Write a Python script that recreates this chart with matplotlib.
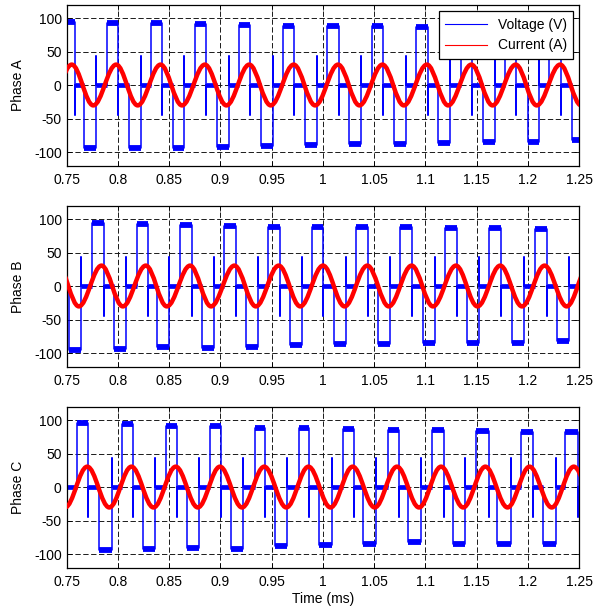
import numpy as np
import matplotlib.pyplot as plt
from matplotlib.path import Path
from matplotlib.patches import PathPatch
from matplotlib.lines import Line2D

plt.rcParams['font.family'] = ['Liberation Sans', 'DejaVu Sans']
plt.rcParams['axes.unicode_minus'] = False

# Phase A - voltage pulses (ms) and plateau levels (V)
a_pos_on = [0.7460, 0.7892, 0.8321, 0.8749, 0.9178, 0.9608, 1.0042, 1.0478, 1.0908, 1.1342, 1.1774, 1.2207]
a_pos_off = [0.7583, 0.8004, 0.8433, 0.8861, 0.9290, 0.9720, 1.0154, 1.0590, 1.1020, 1.1454, 1.1886, 1.2319]
a_pos_lvl = [95, 93, 93, 91, 90, 89, 88, 88, 87, 87, 86, 85]
a_neg_on = [0.7674, 0.8109, 0.8534, 0.8966, 0.9394, 0.9828, 1.0259, 1.0691, 1.1125, 1.1558, 1.1995, 1.2426]
a_neg_off = [0.7789, 0.8224, 0.8649, 0.9081, 0.9509, 0.9943, 1.0374, 1.0806, 1.1240, 1.1673, 1.2110, 1.2541]
a_neg_lvl = [-94, -93, -93, -92, -91, -89, -88, -87, -86, -85, -84, -82]
# Phase A - current peaks / troughs (ms, A)
a_cur_t = [0.7334, 0.7551, 0.7761, 0.7984, 0.8194, 0.8417, 0.8626, 0.8849, 0.9059, 0.9282, 0.9491, 0.9715,
           0.9924, 1.0148, 1.0356, 1.0581, 1.0789, 1.1014, 1.1221, 1.1447, 1.1654, 1.1880, 1.2085, 1.2313, 1.2518]
a_cur_v = [-30, 31, -30, 31, -30, 31, -30, 31, -30, 31, -30, 31, -30, 31, -30, 31, -30, 31, -30, 31, -30, 31, -30, 31, -30]

# Phase B
b_pos_on = [0.7749, 0.8183, 0.8607, 0.9036, 0.9468, 0.9891, 1.0323, 1.0752, 1.1190, 1.1622, 1.2068]
b_pos_off = [0.7863, 0.8297, 0.8721, 0.9150, 0.9582, 1.0005, 1.0437, 1.0866, 1.1304, 1.1736, 1.2182]
b_pos_lvl = [94, 93, 91, 90, 89, 88, 88, 88, 87, 87, 86]
b_neg_on = [0.7527, 0.7959, 0.8387, 0.8820, 0.9252, 0.9682, 1.0110, 1.0540, 1.0976, 1.1407, 1.1843, 1.2279]
b_neg_off = [0.7644, 0.8076, 0.8504, 0.8937, 0.9369, 0.9799, 1.0227, 1.0657, 1.1093, 1.1524, 1.1960, 1.2396]
b_neg_lvl = [-95, -93, -91, -92, -90, -88, -86, -86, -85, -84, -84, -82]
b_cur_t = [0.7415, 0.7620, 0.7841, 0.8049, 0.8273, 0.8478, 0.8705, 0.8909, 0.9137, 0.9346, 0.9569, 0.9779,
           1.0001, 1.0211, 1.0433, 1.0642, 1.0865, 1.1073, 1.1297, 1.1507, 1.1729, 1.1941, 1.2161, 1.2377, 1.2593]
b_cur_v = [31, -30, 31, -30, 31, -30, 31, -30, 31, -30, 31, -30, 31, -30, 31, -30, 31, -30, 31, -30, 31, -30, 31, -30, 31]

# Phase C
c_pos_on = [0.7605, 0.8037, 0.8470, 0.8902, 0.9335, 0.9767, 1.0199, 1.0632, 1.1064, 1.1497, 1.1929, 1.2360]
c_pos_off = [0.7713, 0.8145, 0.8574, 0.9002, 0.9435, 0.9869, 1.0303, 1.0740, 1.1176, 1.1615, 1.2051, 1.2490]
c_pos_lvl = [96, 95, 92, 91, 89, 88, 87, 86, 85, 84, 83, 82]
c_neg_on = [0.7390, 0.7820, 0.8249, 0.8672, 0.9101, 0.9533, 0.9965, 1.0394, 1.0833, 1.1266, 1.1700, 1.2143]
c_neg_off = [0.7508, 0.7941, 0.8363, 0.8795, 0.9218, 0.9653, 1.0086, 1.0518, 1.0954, 1.1389, 1.1829, 1.2273]
c_neg_lvl = [-93, -94, -92, -90, -92, -88, -86, -85, -82, -84, -85, -84]
c_cur_t = [0.7485, 0.7702, 0.7917, 0.8133, 0.8348, 0.8565, 0.8780, 0.8996, 0.9211, 0.9428, 0.9643, 0.9859,
           1.0074, 1.0290, 1.0505, 1.0722, 1.0937, 1.1152, 1.1368, 1.1584, 1.1800, 1.2015, 1.2231, 1.2446, 1.2662]
c_cur_v = [-30, 31, -30, 31, -30, 31, -30, 31, -30, 31, -30, 31, -30, 31, -30, 31, -30, 31, -30, 31, -30, 31, -30, 31, -30]

spike = 44  # overshoot at the end of each pulse

names = ['Phase A', 'Phase B', 'Phase C']
phases = [
    (a_pos_on, a_pos_off, a_pos_lvl, a_neg_on, a_neg_off, a_neg_lvl, a_cur_t, a_cur_v),
    (b_pos_on, b_pos_off, b_pos_lvl, b_neg_on, b_neg_off, b_neg_lvl, b_cur_t, b_cur_v),
    (c_pos_on, c_pos_off, c_pos_lvl, c_neg_on, c_neg_off, c_neg_lvl, c_cur_t, c_cur_v),
]

xticks = [0.75, 0.8, 0.85, 0.9, 0.95, 1, 1.05, 1.1, 1.15, 1.2, 1.25]
xlabels = ['0.75', '0.8', '0.85', '0.9', '0.95', '1', '1.05', '1.1', '1.15', '1.2', '1.25']
yticks = [-100, -50, 0, 50, 100]


def current_patch(tx, vy):
    # cubic bezier with flat tangents at every extremum -> smooth sine-like trace
    k = 1 - 2 / np.pi
    verts = [(tx[0], vy[0])]
    codes = [Path.MOVETO]
    for i in range(1, len(tx)):
        d = tx[i] - tx[i - 1]
        verts += [(tx[i - 1] + k * d, vy[i - 1]), (tx[i] - k * d, vy[i]), (tx[i], vy[i])]
        codes += [Path.CURVE4] * 3
    return PathPatch(Path(verts, codes), fill=False, edgecolor='#ff0000', lw=3.2,
                     capstyle='butt', joinstyle='round', zorder=3)


fig = plt.figure(figsize=(6.07, 6.10), dpi=100)
bottoms = [0.7284, 0.3989, 0.0693]

for name, ph, bot in zip(names, phases, bottoms):
    pos_on, pos_off, pos_lvl, neg_on, neg_off, neg_lvl, cur_t, cur_v = ph
    ax = fig.add_axes([0.1096, bot, 0.8448, 0.2634])

    pulses = sorted(list(zip(pos_on, pos_off, pos_lvl)) + list(zip(neg_on, neg_off, neg_lvl)))
    t, v = [0.70], [0]
    for s, e, lv in pulses:
        t += [s, s, e, e, e]
        v += [0, lv, lv, -np.sign(lv) * spike, 0]
    t.append(1.30)
    v.append(0)
    ax.plot(t, v, color='#0000ff', lw=1.1, zorder=2)

    # noisy plateaus drawn as thicker bands
    ax.hlines([p[2] for p in pulses], [p[0] for p in pulses], [p[1] for p in pulses],
              color='#0000ff', lw=4.2, zorder=2)
    z_start = [0.70] + [p[1] for p in pulses]
    z_end = [p[0] for p in pulses] + [1.30]
    ax.hlines([0] * len(z_start), z_start, z_end, color='#0000ff', lw=3.4, zorder=2)

    ax.add_patch(current_patch(cur_t, cur_v))

    ax.set_xlim(0.75, 1.25)
    ax.set_ylim(-120, 120)
    ax.set_xticks(xticks)
    ax.set_xticklabels(xlabels)
    ax.set_yticks(yticks)
    ax.tick_params(direction='in', top=True, right=True, length=3.5, width=0.6, labelsize=10)
    ax.tick_params(axis='x', pad=5)
    ax.tick_params(axis='y', pad=3.5)
    ax.grid(True, color='0.1', lw=0.7, linestyle=(0, (5.5, 2.6)))
    ax.set_axisbelow(True)
    for sp in ax.spines.values():
        sp.set_linewidth(0.9)
    ax.set_ylabel(name, fontsize=10)
    ax.yaxis.set_label_coords(-0.081, 0.5)

    if name == 'Phase A':
        handles = [Line2D([], [], color='#0000ff', lw=0.8), Line2D([], [], color='#ff0000', lw=0.8)]
        ax.legend(handles, ['Voltage (V)', 'Current (A)'], loc='upper right', fontsize=10,
                  fancybox=False, edgecolor='k', framealpha=1, borderaxespad=0.45,
                  handlelength=3.0, labelspacing=0.5, borderpad=0.45).get_frame().set_linewidth(0.9)
    if name == 'Phase C':
        ax.set_xlabel('Time (ms)', fontsize=10, labelpad=2.5)

fig.savefig('out.png', dpi=100)
